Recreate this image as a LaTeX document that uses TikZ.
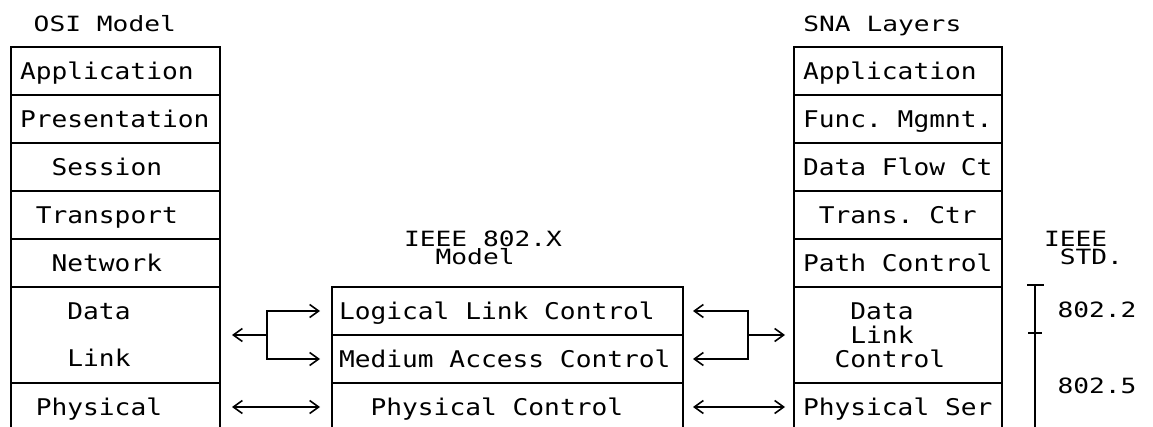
\documentclass[tikz,border=0pt]{standalone}
\usepackage{fontspec}
\usepackage{tikz}
\usetikzlibrary{arrows.meta}
\newfontfamily\termfont[FakeStretch=1.14]{DejaVu Sans Mono}
\newfontfamily\titlefont[FakeStretch=1.25]{DejaVu Sans Mono}
\newlength{\chwd}
\setlength{\chwd}{15.8pt}
\newcommand{\chskip}[1]{\hspace*{#1\chwd}}

\begin{document}
\begin{tikzpicture}[x=1pt, y=-1pt, line width=1.6pt,
  >={Straight Barb[length=9pt, width=13pt]},
  every node/.style={font=\termfont\fontsize{23}{27.6}\selectfont, inner sep=0pt, outer sep=0pt,
    execute at begin node={\frenchspacing\spaceskip=0pt\xspaceskip=0pt\relax}},
  layer/.style={draw, minimum height=48pt, text height=17pt, text depth=0pt, align=left},
  sidelayer/.style={layer, minimum width=209pt, text width=191pt, inner xsep=9pt},
  midlayer/.style={layer, minimum width=351pt, text width=337pt, inner xsep=7pt},
  title/.style={anchor=base west, text width=170pt, align=left,
    font=\titlefont\fontsize{21}{25.2}\selectfont}]
			\useasboundingbox (0,0) rectangle (1153,427);
			% titles
			\node[title] (osit) at (33.7,32) {OSI Model};
			\node[title] (snat) at (803.3,32) {SNA Layers};
			\node[title] (ieee) at (404,246.5) {IEEE 802.X\\[-6.7pt]\chskip{2}Model};
			\node[title, text width=100pt] (std) at (1044,246.5) {IEEE\\[-6.7pt]\chskip{1}STD.};
			% OSI layers
			\foreach \n/\y/\txt in {1/71/Application, 2/119/Presentation, 3/167/{\chskip{2}Session},
				4/215/{\chskip{1}Transport}, 5/263/{\chskip{2}Network}, 7/407/{\chskip{1}Physical}} {
				\node[sidelayer] (osi\n) at (115.5,\y) {\txt};
			}
			\node[sidelayer, minimum height=96pt, text height={}, text depth={}] (osi6) at (115.5,335)
				{\chskip{3}Data\\[19.4pt]\chskip{3}Link};
			% SNA layers
			\foreach \n/\y/\txt in {1/71/Application, 2/119/Func. Mgmnt., 3/167/Data Flow Ct,
				4/215/{\chskip{1}Trans. Ctr}, 5/263/Path Control, 7/407/Physical Ser} {
				\node[sidelayer, minimum width=208pt, text width=190pt] (sna\n) at (898,\y) {\txt};
			}
			\node[sidelayer, minimum width=208pt, text width=190pt, minimum height=96pt, text height={}, text depth={}] (sna6) at (898,335)
				{\chskip{3}Data\\[-3.6pt]\chskip{3}Link\\[-3.6pt]\chskip{2}Control};
			% IEEE 802.X
			\node[midlayer] (llc) at (507.5,311) {Logical Link Control};
			\node[midlayer] (mac) at (507.5,359) {Medium Access Control};
			\node[midlayer] (phc) at (507.5,407) {\chskip{2}Physical Control};
			% connectors
			\coordinate (lj) at (267,335);
			\coordinate (rj) at (748,335);
			\draw[<-] ([xshift=12pt]osi6.east) -- (lj);
			\draw[->] (lj) |- ([xshift=-12pt]llc.west);
			\draw[->] (lj) |- ([xshift=-12pt]mac.west);
			\draw[<->] ([xshift=12pt]osi7.east) -- ([xshift=-12pt]phc.west);
			\draw[<-] ([xshift=10pt]llc.east) -| (rj);
			\draw[<-] ([xshift=10pt]mac.east) -| (rj);
			\draw[->] (rj) -- ([xshift=-9pt]sna6.west);
			\draw[<->] ([xshift=10pt]phc.east) -- ([xshift=-9pt]sna7.west);
			% IEEE std bracket
			\draw (1035,285) -- (1035,431);
			\draw (1027,285) -- (1044,285);
			\draw (1028,333) -- (1042,333);
			\node[title, text width=100pt] (std2) at (1057.5,318) {802.2};
			\node[title, text width=100pt] (std5) at (1057.5,393) {802.5};
		\end{tikzpicture}
\end{document}
